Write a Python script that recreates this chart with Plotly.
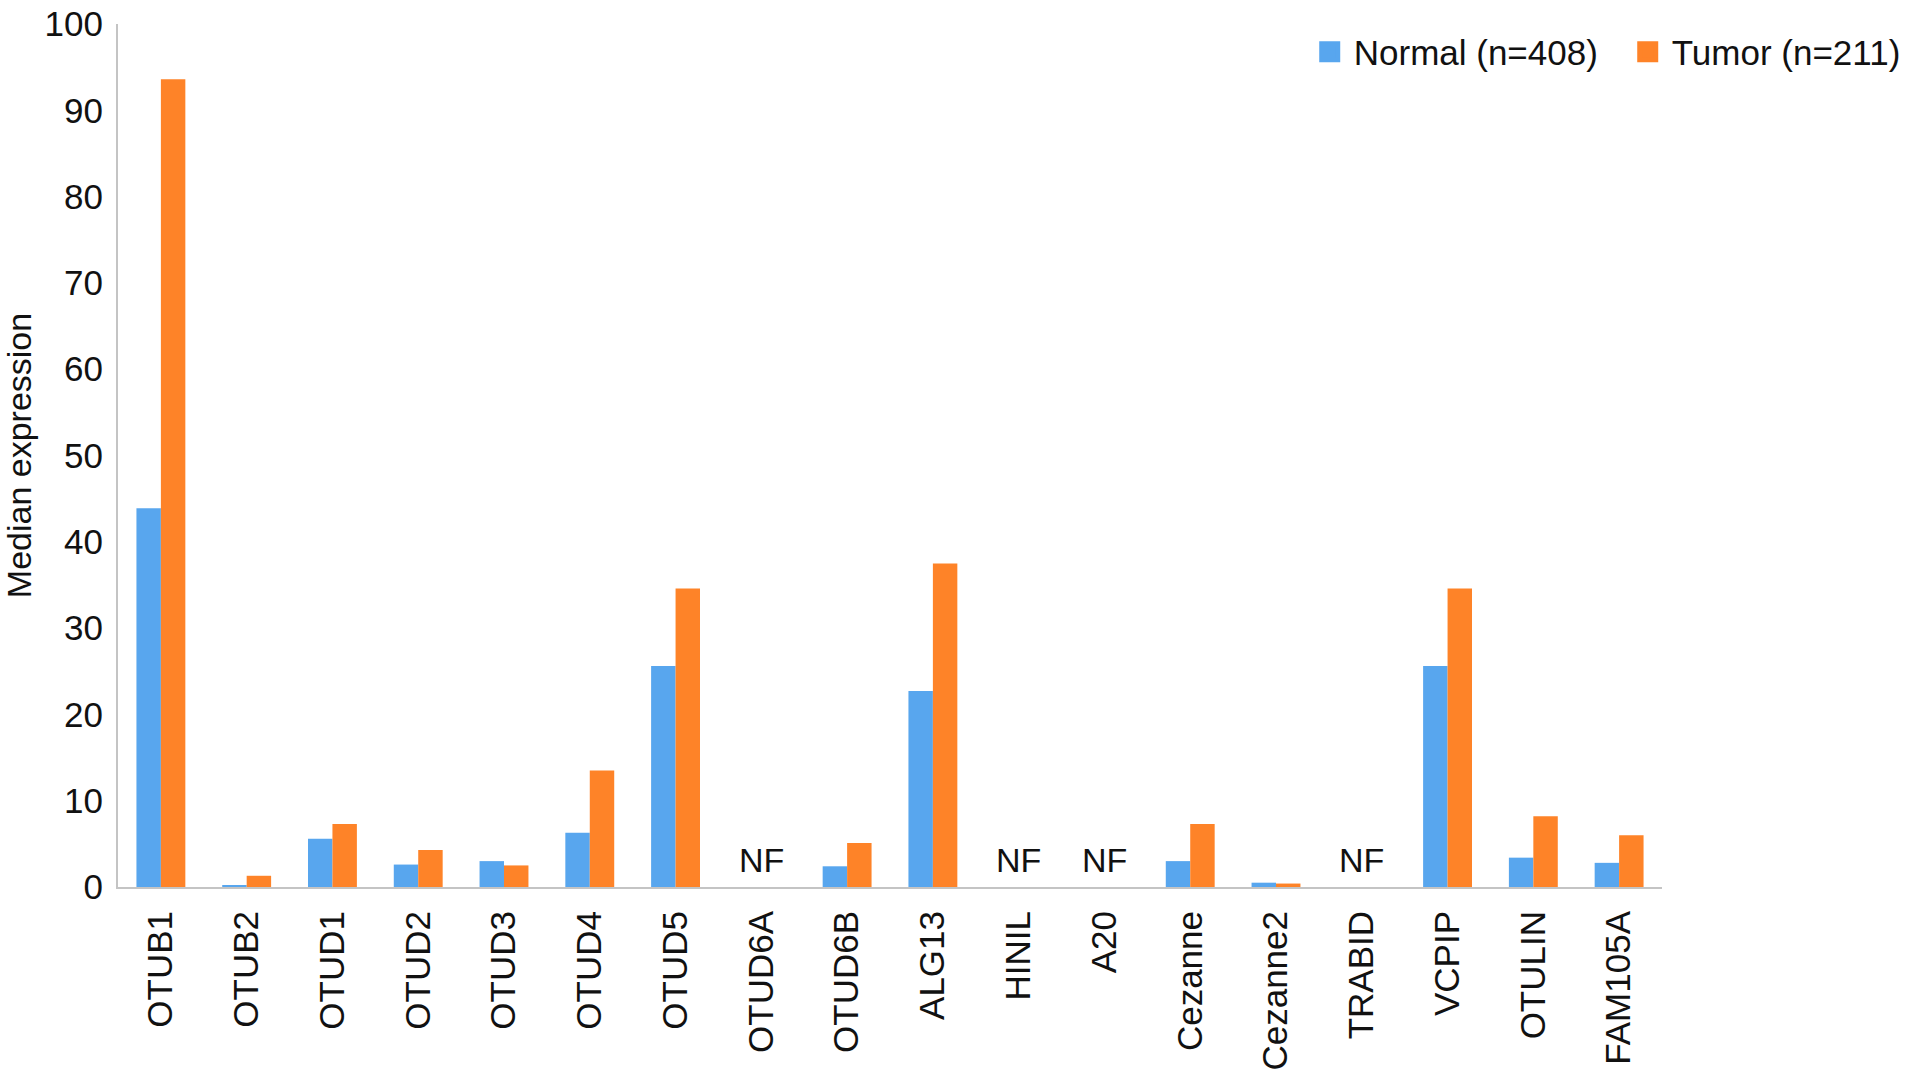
import plotly.graph_objects as go

categories = ["OTUB1", "OTUB2", "OTUD1", "OTUD2", "OTUD3", "OTUD4", "OTUD5", "OTUD6A",
              "OTUD6B", "ALG13", "HINIL", "A20", "Cezanne", "Cezanne2", "TRABID",
              "VCPIP", "OTULIN", "FAM105A"]
normal = [43.9, 0.2, 5.6, 2.6, 3.0, 6.3, 25.6, None, 2.4, 22.7, None, None, 3.0, 0.5,
          None, 25.6, 3.4, 2.8]
tumor = [93.6, 1.3, 7.3, 4.3, 2.5, 13.5, 34.6, None, 5.1, 37.5, None, None, 7.3, 0.4,
         None, 34.6, 8.2, 6.0]
nf_categories = ["OTUD6A", "HINIL", "A20", "TRABID"]
nf_label = "NF"
nf_y = 3.1
y_ticks = [0, 10, 20, 30, 40, 50, 60, 70, 80, 90, 100]
series_names = ["Normal (n=408)", "Tumor (n=211)"]

FONT = "Liberation Sans, Arial, Helvetica, sans-serif"
TXT = "#111111"
BLUE = "#58A6EE"
ORANGE = "#FE8328"

fig = go.Figure()
for name, vals, col in [(series_names[0], normal, BLUE), (series_names[1], tumor, ORANGE)]:
    fig.add_trace(go.Bar(x=categories, y=vals, name=name, legendgroup=name,
                         showlegend=False, marker=dict(color=col, line=dict(width=0))))
# legend entries with larger square swatches
legend_widths = [265, None]
for name, col, lw in [(series_names[0], BLUE, legend_widths[0]),
                      (series_names[1], ORANGE, legend_widths[1])]:
    fig.add_trace(go.Scatter(x=[None], y=[None], mode="markers", name=name,
                             legendgroup=name, showlegend=True, legendwidth=lw,
                             marker=dict(symbol="square", size=16, color=col,
                                         line=dict(color=col, width=5))))

for c in nf_categories:
    fig.add_annotation(x=c, y=nf_y, text=nf_label, showarrow=False,
                       font=dict(family=FONT, size=34, color=TXT),
                       xref="x", yref="y")

fig.update_layout(
    width=1913, height=1083,
    margin=dict(l=118, r=251, t=24, b=196, pad=0, autoexpand=False),
    paper_bgcolor="white", plot_bgcolor="white",
    barmode="group", bargap=0.43, bargroupgap=0,
    font=dict(family=FONT, size=35, color=TXT),
    legend=dict(orientation="h", xref="container", x=0.9962, xanchor="right",
                y=0.9676, yanchor="middle",
                font=dict(family=FONT, size=35, color=TXT),
                bgcolor="rgba(0,0,0,0)", itemwidth=38, traceorder="normal"),
    showlegend=True,
)
fig.update_xaxes(
    type="category", showline=True, linecolor="#c4c4c4", linewidth=2,
    showgrid=False, ticks="", tickangle=-90, tickfont=dict(family=FONT, size=35, color=TXT),
    ticklabelstandoff=8, zeroline=False, automargin=False,
)
fig.update_yaxes(
    range=[0, 100], tickvals=y_ticks, showline=True, linecolor="#c4c4c4", linewidth=2,
    showgrid=False, ticks="", zeroline=False, tickfont=dict(family=FONT, size=35, color=TXT),
    ticklabelstandoff=6, automargin=False,
    title=dict(text="Median expression", font=dict(family=FONT, size=34, color=TXT), standoff=21),
)

fig.write_html("out.html", config={"displayModeBar": False},
               post_script="document.body.style.margin='0';document.body.style.overflow='hidden';")
